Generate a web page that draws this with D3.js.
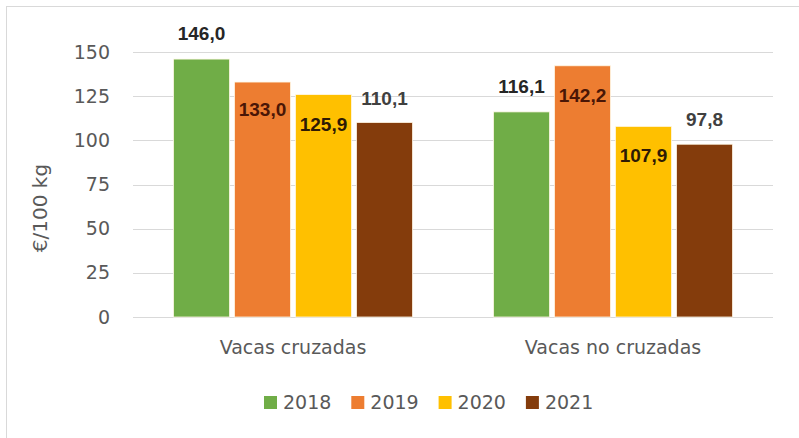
<!DOCTYPE html>
<html>
<head>
<meta charset="utf-8">
<script src="https://d3js.org/d3.v7.min.js"></script>
<style>
  body { margin: 0; background: #fff; }
  text { font-family: "DejaVu Sans", sans-serif; }
</style>
</head>
<body>
<svg id="chart" width="799" height="438"></svg>
<script>
var categories = ["Vacas cruzadas", "Vacas no cruzadas"];
var years = ["2018", "2019", "2020", "2021"];
var values2018 = [146.0, 116.1];
var values2019 = [133.0, 142.2];
var values2020 = [125.9, 107.9];
var values2021 = [110.1, 97.8];
var yTicks = [0, 25, 50, 75, 100, 125, 150];

var colors = ["#70ad47", "#ed7d31", "#ffc000", "#843c0c"];
// where each label sits relative to its bar top (negative = above)
var labelDy = [[-19, -19], [34, 36], [36, 36], [-17, -18]];
var labelColor = [["#262626", "#262626"], ["#4a1606", "#4a1606"], ["#2e1a04", "#2e1a04"], ["#404040", "#404040"]];

var series = [values2018, values2019, values2020, values2021];

var svg = d3.select("#chart");

// chart area outline (only top/left visible in the frame)
svg.append("rect")
    .attr("x", 6.5).attr("y", 6.5)
    .attr("width", 820).attr("height", 460)
    .attr("fill", "#fff")
    .attr("stroke", "#d9d9d9");

var x0 = d3.scaleBand().domain(categories).range([133, 773]);
var x1 = d3.scaleBand().domain(years).range([38, 282]).paddingInner(0.08).paddingOuter(0.04);
var y = d3.scaleLinear().domain([0, 150]).range([317, 52]);

// gridlines
svg.append("g")
  .selectAll("line")
  .data(yTicks)
  .join("line")
    .attr("x1", 133).attr("x2", 773)
    .attr("y1", function(d) { return Math.round(y(d)) + 0.5; })
    .attr("y2", function(d) { return Math.round(y(d)) + 0.5; })
    .attr("stroke", "#d9d9d9");

var yAxis = svg.append("g")
    .attr("transform", "translate(117,0)")
    .call(d3.axisLeft(y).tickValues(yTicks).tickSize(0).tickPadding(7));
yAxis.select(".domain").remove();
yAxis.selectAll("text")
    .attr("fill", "#595959")
    .style("font-size", "19px")
    .style("font-family", "DejaVu Sans, sans-serif");

svg.append("text")
    .attr("transform", "translate(47,208) rotate(-90)")
    .attr("text-anchor", "middle")
    .attr("fill", "#595959")
    .style("font-size", "20px")
    .text("€/100 kg");

var xAxis = svg.append("g")
    .attr("transform", "translate(0,317)")
    .call(d3.axisBottom(x0).tickSize(0).tickPadding(24));
xAxis.select(".domain").remove();
xAxis.selectAll("text")
    .attr("fill", "#595959")
    .style("font-size", "19px")
    .style("font-family", "DejaVu Sans, sans-serif");

var groups = svg.append("g")
  .selectAll("g")
  .data(years)
  .join("g")
    .attr("fill", function(d, i) { return colors[i]; });

groups.each(function(yr, i) {
  var g = d3.select(this);
  g.selectAll("rect")
    .data(series[i])
    .join("rect")
      .attr("x", function(d, j) { return x0(categories[j]) + x1(yr); })
      .attr("y", function(d) { return y(d); })
      .attr("width", x1.bandwidth())
      .attr("height", function(d) { return y(0) - y(d); })
      .attr("stroke", "#fff8e6")
      .attr("stroke-width", 0.8);

  g.selectAll("text")
    .data(series[i])
    .join("text")
      .attr("x", function(d, j) { return x0(categories[j]) + x1(yr) + x1.bandwidth() / 2; })
      .attr("y", function(d, j) { return y(d) + labelDy[i][j]; })
      .attr("text-anchor", "middle")
      .attr("fill", function(d, j) { return labelColor[i][j]; })
      .style("font-family", "Liberation Sans, Arial, sans-serif")
      .style("font-weight", "bold")
      .style("font-size", "19px")
      .text(function(d) { return d3.format(".1f")(d).replace(".", ","); });
});

// legend
var legend = svg.append("g")
  .selectAll("g")
  .data(years)
  .join("g")
    .attr("transform", function(d, i) { return "translate(" + (264 + i * 87.3) + ",396)"; });
legend.append("rect")
    .attr("width", 13).attr("height", 13)
    .attr("fill", function(d, i) { return colors[i]; });
legend.append("text")
    .attr("x", 19).attr("y", 13)
    .attr("fill", "#595959")
    .style("font-size", "19px")
    .text(function(d) { return d; });
</script>
</body>
</html>
